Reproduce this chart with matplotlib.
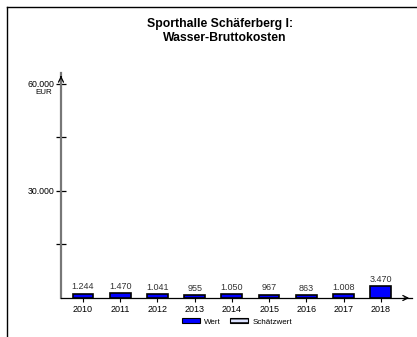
import matplotlib
matplotlib.use("Agg")
import matplotlib.pyplot as plt
from matplotlib.patches import Patch
from matplotlib.lines import Line2D

years = [2010, 2011, 2012, 2013, 2014, 2015, 2016, 2017, 2018]
values = [1244, 1470, 1041, 955, 1050, 967, 863, 1008, 3470]
value_labels = ["1.244", "1.470", "1.041", "955", "1.050", "967", "863", "1.008", "3.470"]
y_ticks = [15000, 30000, 45000, 60000]
y_ticklabels = ["", "30.000", "", "60.000"]
title_lines = ["Sporthalle Schäferberg I:", "Wasser-Bruttokosten"]
legend_labels = ["Wert", "Schätzwert"]

plt.rcParams['font.family'] = ['Liberation Sans', 'DejaVu Sans']

W, H = 417, 337
fig = plt.figure(figsize=(W / 100, H / 100), dpi=100)

# frame lines (top and left)
fig.add_artist(Line2D([7 / W, 7 / W], [0, 1 - 7 / H], color='black', lw=1.0))
fig.add_artist(Line2D([7 / W, 1], [1 - 7 / H, 1 - 7 / H], color='black', lw=1.0))

ax_left, ax_right = 61, 412
ax_top, ax_bottom = 73, 298
ax = fig.add_axes([ax_left / W, 1 - ax_bottom / H, (ax_right - ax_left) / W, (ax_bottom - ax_top) / H])
ax.patch.set_alpha(0)

ax.bar(years, values, width=0.56, color='#0000FF', edgecolor='black', linewidth=1.2, zorder=3)
for x, v, lab in zip(years, values, value_labels):
    ax.annotate(lab, (x, v), xytext=(0, 1.5), textcoords='offset points',
                ha='center', va='bottom', fontsize=6.5, color='#333333')

ax.set_xlim(2009.41, 2018.84)
ax.set_ylim(0, 63080)

for s in ['top', 'right']:
    ax.spines[s].set_visible(False)
ax.spines['left'].set_color('#777777')
ax.spines['left'].set_linewidth(1.6)
ax.spines['bottom'].set_color('black')
ax.spines['bottom'].set_linewidth(0.9)

ax.set_xticks(years)
ax.set_xticklabels([str(y) for y in years], fontsize=6.5)
ax.tick_params(axis='x', direction='out', length=3, width=0.8, pad=2, color='black')
ax.set_yticks(y_ticks)
ax.set_yticklabels(y_ticklabels, fontsize=6.3)
ax.tick_params(axis='y', direction='inout', length=7, width=0.9, pad=1, color='black')

# axis arrows
ax.annotate('', xy=(0, 1.0), xycoords='axes fraction', xytext=(0, 0.97),
            arrowprops=dict(arrowstyle='->', color='black', lw=0.9, mutation_scale=9))
ax.annotate('', xy=(1.0, 0), xycoords='axes fraction', xytext=(0.97, 0),
            arrowprops=dict(arrowstyle='->', color='black', lw=0.9, mutation_scale=9))

# unit label
fig.text(44 / W, 1 - 92 / H, "EUR", fontsize=5.8, ha='center', va='center')

# title
fig.text(220 / W, 1 - 24 / H, title_lines[0], fontsize=8.8, fontweight='bold', ha='center', va='center')
fig.text(225 / W, 1 - 38 / H, title_lines[1], fontsize=8.8, fontweight='bold', ha='center', va='center')

handles = [Patch(facecolor='#0000FF', edgecolor='black', lw=0.8),
           Patch(facecolor='#DDE3FF', edgecolor='black', lw=0.8, hatch='----')]
fig.legend(handles, legend_labels, loc='center', bbox_to_anchor=(237 / W, 1 - 322 / H),
           ncol=2, frameon=False, fontsize=5.8, handlelength=2.2, handleheight=0.6,
           columnspacing=1.2, handletextpad=0.5)

fig.savefig("out.png", dpi=100)
